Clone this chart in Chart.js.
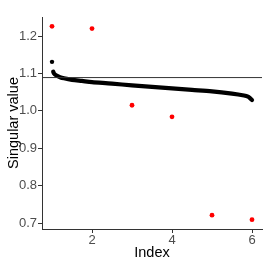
<!DOCTYPE html>
<html>
<head>
<meta charset="utf-8">
<script src="https://cdn.jsdelivr.net/npm/chart.js@4"></script>
<style>
  html, body { margin: 0; padding: 0; background: #fff; }
  #wrap { width: 266px; height: 266px; }
</style>
</head>
<body>
<div id="wrap"><canvas id="svChart" width="266" height="266"></canvas></div>
<script>
// Singular values: red = separate estimates, black = sorted curve
const redIndex = [1, 2, 3, 4, 5, 6];
const redValues = [1.226, 1.220, 1.015, 0.984, 0.721, 0.709];

const curveIndex = [1.03, 1.05, 1.1, 1.2, 1.3, 1.5, 1.75, 2.0, 2.5, 3.0, 3.5, 4.0, 4.5, 5.0, 5.5, 5.8, 5.9, 5.95, 6.0];
const curveValues = [1.105, 1.100, 1.095, 1.090, 1.087, 1.083, 1.080, 1.077, 1.073, 1.068, 1.064, 1.060, 1.056, 1.052, 1.046, 1.041, 1.038, 1.034, 1.029];

const firstIndex = [1];
const firstValue = [1.131];

const refLine = 1.089;
const xRange = [0.75, 6.25];
const yTicks = [0.7, 0.8, 0.9, 1.0, 1.1, 1.2];
const xTicks = [2, 4, 6];

const toXY = (xs, ys) => xs.map((x, i) => ({ x: x, y: ys[i] }));

document.addEventListener('DOMContentLoaded', function() {
    const ctx = document.getElementById('svChart').getContext('2d');
    const axisColor = '#333333';
    const tickColor = '#4d4d4d';

    new Chart(ctx, {
        type: 'scatter',
        data: {
            datasets: [
                {
                    // horizontal reference line
                    type: 'line',
                    data: toXY(xRange, [refLine, refLine]),
                    borderColor: '#333333',
                    borderWidth: 1,
                    pointRadius: 0
                },
                {
                    type: 'line',
                    data: toXY(curveIndex, curveValues),
                    borderColor: '#000000',
                    borderWidth: 4.2,
                    borderCapStyle: 'round',
                    tension: 0.3,
                    pointRadius: 0
                },
                {
                    data: toXY(firstIndex, firstValue),
                    backgroundColor: '#000000',
                    borderWidth: 0,
                    pointRadius: 2.2
                },
                {
                    data: toXY(redIndex, redValues),
                    backgroundColor: '#ff0000',
                    borderWidth: 0,
                    pointRadius: 2.4
                }
            ]
        },
        options: {
            responsive: false,
            animation: false,
            layout: { padding: { top: 17, right: 4, left: 5, bottom: 4 } },
            plugins: { legend: { display: false }, tooltip: { enabled: false } },
            scales: {
                x: {
                    type: 'linear',
                    min: xRange[0],
                    max: xRange[1],
                    afterBuildTicks: function(s) { s.ticks = xTicks.map(v => ({ value: v })); },
                    afterFit: function(s) { s.height = 33; },
                    grid: { drawOnChartArea: false, tickLength: 4, color: axisColor },
                    border: { color: axisColor, width: 1 },
                    ticks: { color: tickColor, font: { family: 'Liberation Sans', size: 13 }, padding: 0 },
                    title: { display: true, text: 'Index', color: '#000', font: { family: 'Liberation Sans', size: 14.5 }, padding: { top: 0, bottom: 0 } }
                },
                y: {
                    min: 0.684,
                    max: 1.251,
                    afterBuildTicks: function(s) { s.ticks = yTicks.map(v => ({ value: v })); },
                    afterFit: function(s) { s.width = 37; },
                    grid: { drawOnChartArea: false, tickLength: 4, color: axisColor },
                    border: { color: axisColor, width: 1 },
                    ticks: {
                        color: tickColor,
                        font: { family: 'Liberation Sans', size: 13 },
                        padding: 1,
                        callback: function(v) { return v.toFixed(1); }
                    },
                    title: { display: true, text: 'Singular value', color: '#000', font: { family: 'Liberation Sans', size: 14.5 }, padding: { top: 0, bottom: 0 } }
                }
            }
        }
    });
});
</script>
</body>
</html>
